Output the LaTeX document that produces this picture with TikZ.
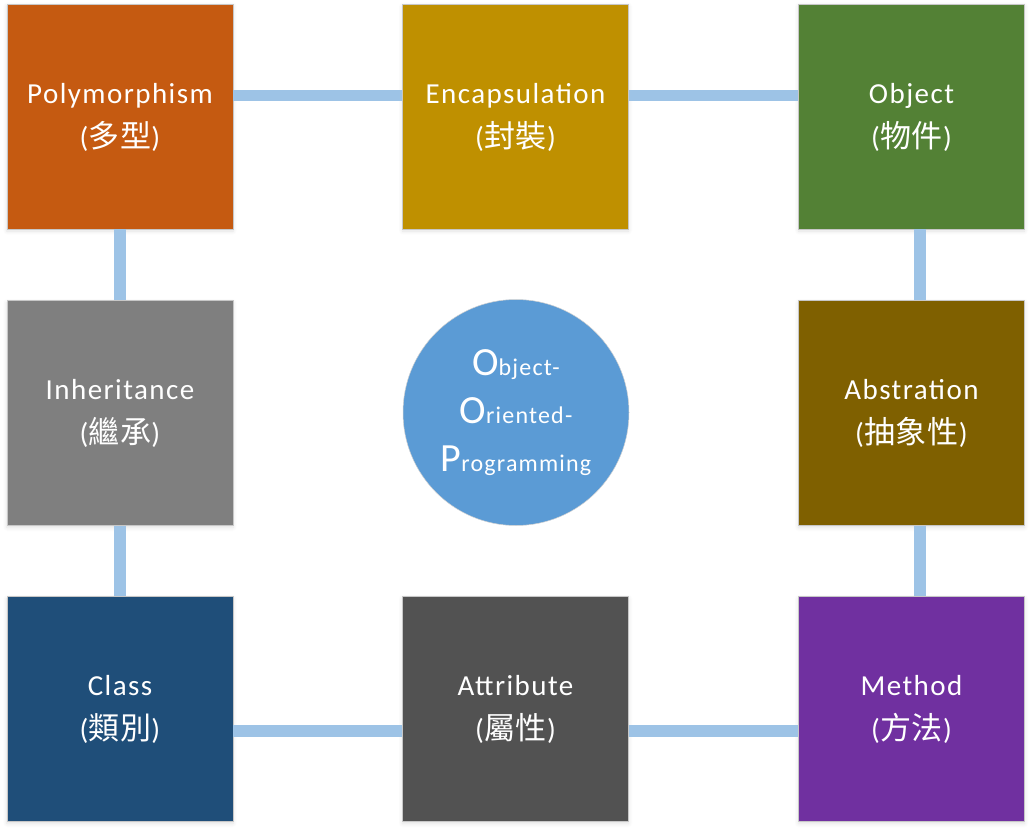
\documentclass[tikz,border=0pt]{standalone}
\usepackage{fontspec}
\setmainfont[LetterSpace=5]{Carlito}
\newfontfamily\cjk[LetterSpace=3,Scale=1.07]{Noto Sans CJK TC}
\usetikzlibrary{shadows.blur}
\definecolor{cPoly}{HTML}{C55A11}
\definecolor{cEnc}{HTML}{BF9000}
\definecolor{cObj}{HTML}{538135}
\definecolor{cInh}{HTML}{7F7F7F}
\definecolor{cAbs}{HTML}{7F6000}
\definecolor{cCls}{HTML}{1F4E79}
\definecolor{cAttr}{HTML}{525252}
\definecolor{cMeth}{HTML}{7030A0}
\definecolor{cCirc}{HTML}{5B9BD5}
\definecolor{cLink}{HTML}{9DC3E6}
\tikzset{
  box/.style={draw=black!22, line width=0.6pt, minimum width=226pt, minimum height=225pt,
    inner sep=0pt, text=white, align=center, font=\fontsize{29}{43}\selectfont,
    blur shadow={shadow blur steps=6, shadow opacity=12, shadow xshift=0pt, shadow yshift=-2pt, shadow blur radius=4pt}},
  link/.style={draw=cLink, line width=11.5pt},
}
\newcommand{\bigL}[1]{{\fontsize{40}{48}\selectfont #1}}
\newcommand{\twoline}[2]{\raisebox{-2pt}{\begin{tabular}{@{}c@{}}#1\\[1pt]#2\end{tabular}}}
\begin{document}
\begin{tikzpicture}[x=1pt,y=-1pt]
\useasboundingbox (0,0) rectangle (1033,834);
\node[box, fill=cPoly] (poly) at (120,116.5) {\twoline{Polymorphism}{({\cjk 多型})}};
\node[box, fill=cEnc] (enc) at (515.5,116.5) {\twoline{Encapsulation}{({\cjk 封裝})}};
\node[box, fill=cObj] (obj) at (911.5,116.5) {\twoline{Object}{({\cjk 物件})}};
\node[box, fill=cInh] (inh) at (120,413) {\twoline{Inheritance}{({\cjk 繼承})}};
\node[box, fill=cAbs] (abs) at (911.5,413) {\twoline{Abstration}{({\cjk 抽象性})}};
\node[box, fill=cCls] (cls) at (120,709) {\twoline{Class}{({\cjk 類別})}};
\node[box, fill=cAttr] (attr) at (515.5,709) {\twoline{Attribute}{({\cjk 屬性})}};
\node[box, fill=cMeth] (meth) at (911.5,709) {\twoline{Method}{({\cjk 方法})}};
\node[circle, fill=cCirc, draw=black!18, line width=0.5pt, minimum size=226pt, inner sep=0pt,
  text=white, align=center, font=\fontsize{24}{48}\selectfont] (oop) at (516,412.5)
  {\bigL{O}bject-\\\bigL{O}riented-\\\bigL{P}rogramming};
\draw[link] ([yshift=21pt]poly.east) -- ([yshift=21pt]enc.west);
\draw[link] ([yshift=21pt]enc.east) -- ([yshift=21pt]obj.west);
\draw[link] (poly.south) -- (inh.north);
\draw[link] (inh.south) -- (cls.north);
\draw[link] ([xshift=8.5pt]obj.south) -- ([xshift=8.5pt]abs.north);
\draw[link] ([xshift=8.5pt]abs.south) -- ([xshift=8.5pt]meth.north);
\draw[link] ([yshift=-22pt]cls.east) -- ([yshift=-22pt]attr.west);
\draw[link] ([yshift=-22pt]attr.east) -- ([yshift=-22pt]meth.west);
\end{tikzpicture}
\end{document}
